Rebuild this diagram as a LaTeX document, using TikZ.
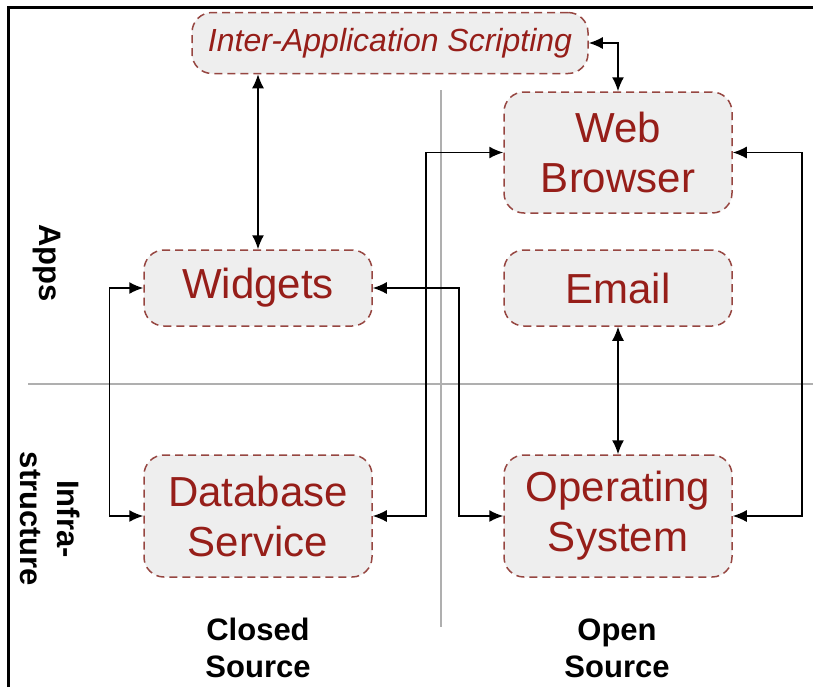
\documentclass[tikz,border=0pt]{standalone}
\usepackage{fontspec}
\setmainfont{Liberation Sans}
\usetikzlibrary{arrows.meta}
\definecolor{boxtext}{RGB}{150,30,25}
\definecolor{boxedge}{RGB}{150,70,65}
\definecolor{boxfill}{RGB}{238,238,238}
\definecolor{rule}{RGB}{175,175,175}

\begin{document}
\begin{tikzpicture}[x=0.5pt,y=-0.5pt,
        box/.style={draw=boxedge,fill=boxfill,dash pattern=on 4pt off 2.5pt,line width=0.75pt,
            rounded corners=10pt,text=boxtext,align=center,inner sep=0pt,minimum width=114pt,
            font=\fontsize{21}{25}\selectfont},
        link/.style={{Latex[length=7pt,width=6pt]}-{Latex[length=7pt,width=6pt]},line width=0.75pt},
        divider/.style={draw=rule,line width=0.6pt},
        sidelabel/.style={font=\fontsize{15.5}{18.5}\selectfont\bfseries,align=center}]
        \useasboundingbox (0,0) rectangle (813,687);
        \draw[line width=1.5pt] (8,687) -- (8,7) -- (813,7);
        \draw[divider] (28,384) -- (813,384);
        \draw[divider] (441,90) -- (441,627);
        \node[box,minimum width=198pt,minimum height=30.5pt,font=\fontsize{16}{19}\selectfont\itshape] (ias) at (390,43) {Inter-Application Scripting};
        \node[box,minimum height=60.5pt] (wb) at (618,152.5) {Web\\Browser};
        \node[box,minimum height=38pt] (wid) at (258,288) {Widgets};
        \node[box,minimum height=38pt] (em) at (618,288) {Email};
        \node[box,minimum height=61pt] (db) at (258,516) {Database\\Service};
        \node[box,minimum height=61pt] (os) at (618,516) {Operating\\System};
        \node[sidelabel,rotate=-90] (apps) at (47,263) {Apps};
        \node[sidelabel,rotate=-90] (infra) at (50,519) {Infra-\\structure};
        \node[sidelabel] (closed) at (258,648) {Closed\\Source};
        \node[sidelabel] (open) at (617,648) {Open\\Source};
        \draw[link] (wid.north) -- (wid.north |- ias.south);
        \draw[link] (ias.east) -| (wb.north);
        \draw[link] (wid.west) -- ++(-34,0) |- (db.west);
        \draw[link] (db.east) -- ++(53,0) |- (wb.west);
        \draw[link] (wid.east) -- ++(86,0) |- (os.west);
        \draw[link] (wb.east) -- ++(69,0) |- (os.east);
        \draw[link] (em.south) -- (os.north);
    \end{tikzpicture}
\end{document}
